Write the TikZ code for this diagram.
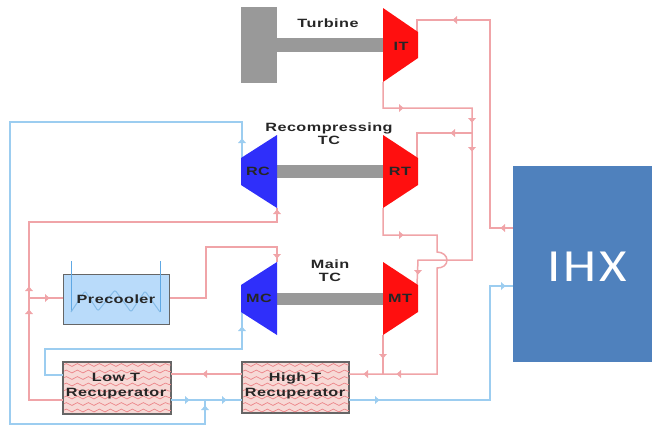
\documentclass[tikz,border=0pt]{standalone}
\usepackage{fontspec}
\usetikzlibrary{decorations.pathmorphing}
\newfontfamily\lblfont[FakeStretch=1.35,LetterSpace=4]{Liberation Sans Bold}
\newfontfamily\ihxfont[FakeStretch=1.15,LetterSpace=6]{Carlito}
\definecolor{hotline}{HTML}{F0A4A8}
\definecolor{coldline}{HTML}{9CCDF0}
\definecolor{hotfill}{HTML}{FF0F0F}
\definecolor{coldfill}{HTML}{2F2FFA}
\definecolor{shaftgray}{HTML}{999999}
\definecolor{ihxblue}{HTML}{4F81BD}
\definecolor{wavepink}{HTML}{F7D9D6}
\definecolor{waveline}{HTML}{EC8488}
\definecolor{pcblue}{HTML}{B9DBFA}
\definecolor{coilblue}{HTML}{5FA8E4}
\definecolor{coillight}{HTML}{86BCE8}
\tikzset{
 hot/.style={draw=hotline,line width=1.5pt},
 cold/.style={draw=coldline,line width=1.5pt},
 lbl/.style={font=\lblfont\fontsize{12}{13}\selectfont,text=black!85,align=center,inner sep=0pt},
 boxlbl/.style={lbl,font=\lblfont\fontsize{12}{14.5}\selectfont},
 hottip/.style={fill=hotline},
 coldtip/.style={fill=coldline},
 exch/.style={draw=black!60,line width=1.2pt,inner sep=0pt,minimum height=50pt},
}
\newcommand{\flowmark}[4]{\fill[#1,shift={(#2,#3)},rotate=#4] (-2,-4) -- (2.5,0) -- (-2,4) -- cycle;}
\newcommand{\recwaves}[1]{%
 \begin{scope}
 \clip (#1.south west) rectangle (#1.north east);
 \foreach \r in {0,...,7}{
  \draw[waveline,line width=.7pt,decorate,decoration={snake,amplitude=1.4pt,segment length=11pt}]
   ([yshift={-3-6.5*\r}]#1.north west) -- ([yshift={-3-6.5*\r}]#1.north east);
 }
 \end{scope}}
\begin{document}
\begin{tikzpicture}[x=1pt,y=-1pt]
\useasboundingbox (0,0) rectangle (652,426);
% rotating blocks
\fill[shaftgray] (241,7) rectangle (277,83);
\fill[shaftgray] (277,38) rectangle (383,52);
\fill[shaftgray] (277,165) rectangle (383,178);
\fill[shaftgray] (277,293) rectangle (383,305);
% ports
\coordinate (ITin) at (417,32); \coordinate (ITout) at (383,82);
\coordinate (RTin) at (417,158); \coordinate (RTout) at (383,208);
\coordinate (MTin) at (417,285); \coordinate (MTout) at (383,335);
\coordinate (RCin) at (277,208); \coordinate (RCout) at (242,158);
\coordinate (MCin) at (277,262); \coordinate (MCout) at (242,312);
\coordinate (IHXhot) at (513,228); \coordinate (IHXcold) at (513,286);
\coordinate (J1) at (472,133); \coordinate (J2) at (472,260);
\coordinate (J3) at (383,374); \coordinate (J4) at (29,298);
\coordinate (J5) at (205,424);
% exchangers
\node[exch,fill=pcblue,minimum width=106pt,anchor=north west] (PC) at (63,274) {};
\node[exch,fill=wavepink,minimum width=107pt,minimum height=51pt,anchor=north west] (LT) at (63,362) {};
\node[exch,fill=wavepink,minimum width=106pt,anchor=north west] (HT) at (242,362) {};
\node[fill=ihxblue,minimum width=139pt,minimum height=196pt,inner sep=0pt,anchor=north west] (IHX) at (513,166) {};
\recwaves{LT}
\recwaves{HT}
\draw[exch,fill=none] (LT.south west) rectangle (LT.north east);
\draw[exch,fill=none] (HT.south west) rectangle (HT.north east);
% precooler coil
\draw[coilblue,line width=1pt] (71,261) -- (71,312) (160,261) -- (160,312);
\draw[coillight,line width=1pt,rounded corners=2pt] (71,312) -- (85,291) -- (98,311) -- (115,290) -- (131,312) -- (145,291) -- (160,312);
% hot lines
\draw[hot] (ITin) |- (490,20) |- (IHXhot);
\draw[hot] (ITout) |- (472,108) -- (J1) -- (J2) -- (418,260) -- (MTin);
\draw[hot] (J1) -| (RTin);
\draw[hot] (RTout) |- (437,235) -- (437,252) .. controls (443,252) and (447,256) .. (447,260) .. controls (447,265) and (443,268) .. (437,268) |- (HT.east |- J3);
\draw[hot] (MTout) -- (J3);
\draw[hot] (HT.west |- J3) -- (LT.east |- J3);
\draw[hot] (LT.west |- 0,400) -| (J4) ;
\draw[hot] (J4) |- (277,222) -- (RCin);
\draw[hot] (J4) -- (PC.west |- J4);
\draw[hot] (PC.east |- J4) -| (206,247) -| (MCin);
% cold lines
\draw[cold] (LT.west |- 0,375) -| (45,349) -| (MCout);
\draw[cold] (LT.east |- 0,400) -- (HT.west |- 0,400);
\draw[cold] (HT.east |- 0,400) -| (490,286) -- (IHXcold);
\draw[cold] (205,400) -- (J5) -| (10,122) -| (RCout);
% turbomachines
\fill[hotfill] (383,8) -- (418,32) -- (418,58) -- (383,82) -- cycle;
\fill[hotfill] (383,135) -- (418,158) -- (418,185) -- (383,208) -- cycle;
\fill[hotfill] (383,262) -- (418,285) -- (418,312) -- (383,335) -- cycle;
\fill[coldfill] (277,135) -- (241,158) -- (241,185) -- (277,208) -- cycle;
\fill[coldfill] (277,262) -- (241,285) -- (241,312) -- (277,335) -- cycle;
% flow marks
\flowmark{hottip}{455}{20}{180}
\flowmark{hottip}{503}{228}{180}
\flowmark{hottip}{401}{108}{0}
\flowmark{hottip}{472}{120}{270}
\flowmark{hottip}{472}{149}{270}
\flowmark{hottip}{453}{133}{180}
\flowmark{hottip}{401}{235}{0}
\flowmark{hottip}{418}{272}{270}
\flowmark{hottip}{383}{356}{270}
\flowmark{hottip}{399}{374}{180}
\flowmark{hottip}{366}{374}{180}
\flowmark{hottip}{205}{374}{180}
\flowmark{hottip}{277}{212}{90}
\flowmark{hottip}{277}{256}{270}
\flowmark{hottip}{29}{289}{90}
\flowmark{hottip}{29}{312}{90}
\flowmark{hottip}{47}{298}{0}
\flowmark{coldtip}{242}{141}{90}
\flowmark{coldtip}{242}{329}{90}
\flowmark{coldtip}{187}{400}{0}
\flowmark{coldtip}{224}{400}{0}
\flowmark{coldtip}{205}{408}{90}
\flowmark{coldtip}{377}{400}{0}
\flowmark{coldtip}{503}{286}{0}
% labels
\node[lbl] (tTurbine) at (328,23) {Turbine};
\node[lbl] (tRecomp) at (329,134) {Recompressing\\TC};
\node[lbl] (tMain) at (330,271) {Main\\TC};
\node[lbl] (tIT) at (401,46) {IT};
\node[lbl] (tRT) at (400,171) {RT};
\node[lbl] (tRC) at (258,171) {RC};
\node[lbl] (tMC) at (259,298) {MC};
\node[lbl] (tMT) at (400,298) {MT};
\node[lbl] (tPC) at (116,299) {Precooler};
\node[boxlbl] (tLT) at (116,386) {Low T\\Recuperator};
\node[boxlbl] (tHT) at (295,386) {High T\\Recuperator};
\node[text=white,inner sep=0pt,font=\ihxfont\fontsize{46}{48}\selectfont] (tIHX) at (587,267) {IHX};
\end{tikzpicture}
\end{document}
